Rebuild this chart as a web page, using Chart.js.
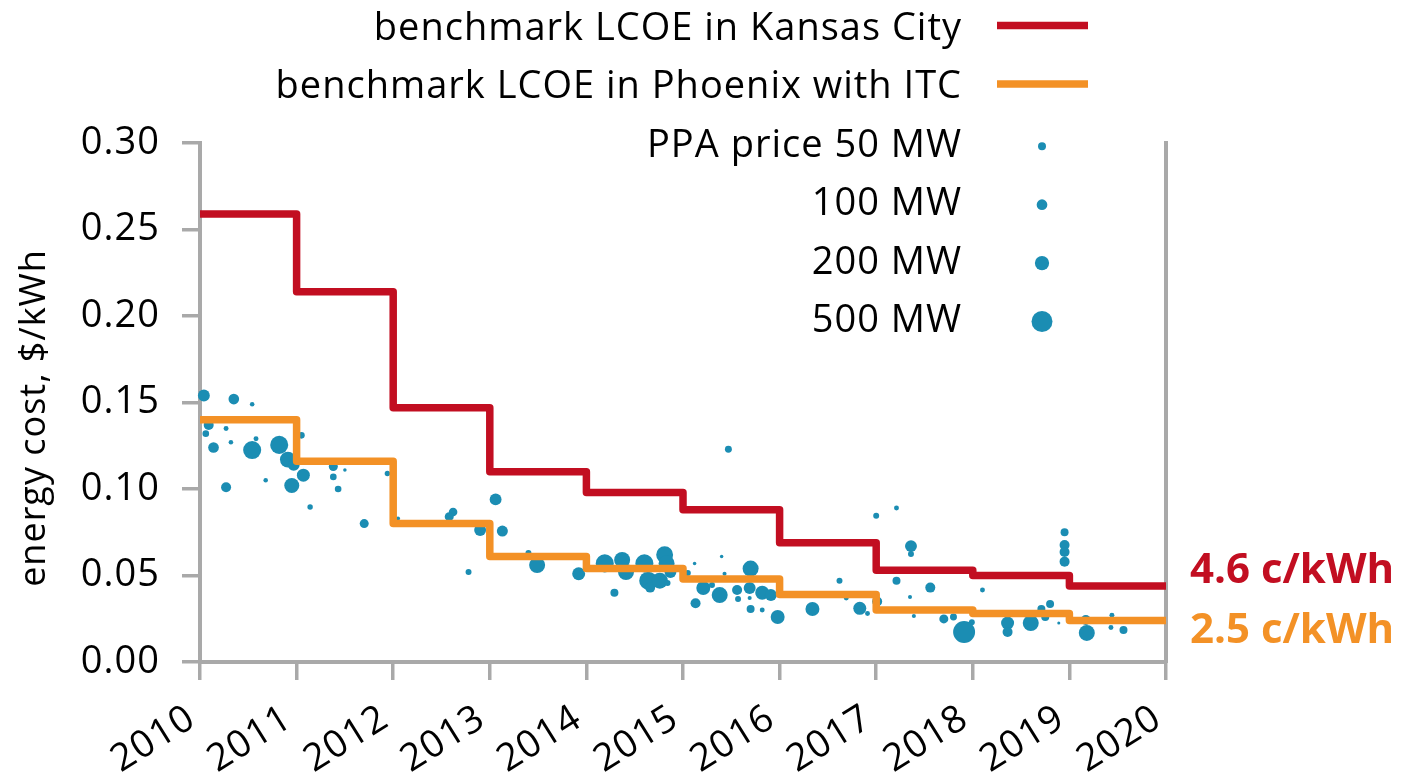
<!DOCTYPE html>
<html>
<head>
<meta charset="utf-8">
<script src="https://cdn.jsdelivr.net/npm/chart.js@4.4.1/dist/chart.umd.min.js"></script>
<style>
    html, body { margin: 0; padding: 0; background: #fff; }
    #wrap { width: 1402px; height: 776px; position: relative; }
</style>
</head>
<body>
<div id="wrap"><canvas id="chart"></canvas></div>
<script>
// benchmark LCOE steps, value held from each year to the next
const stepYears = [2010, 2011, 2012, 2013, 2014, 2015, 2016, 2017, 2018, 2019, 2020];
const kansasCity = [0.259, 0.214, 0.147, 0.110, 0.098, 0.088, 0.069, 0.053, 0.050, 0.044, 0.044];
const phoenixItc = [0.140, 0.116, 0.080, 0.061, 0.054, 0.048, 0.039, 0.030, 0.028, 0.024, 0.024];

// PPA prices: signing date, price in $/kWh, plant size in MW
const ppaYear = [
    2010.04, 2010.35, 2010.54, 2010.09, 2010.06, 2010.27, 2010.32, 2010.14, 2010.54, 2010.58,
    2010.82, 2010.91, 2010.97, 2011.05, 2011.07, 2010.95, 2010.27, 2010.68, 2011.38, 2011.50,
    2011.38, 2011.43, 2011.14, 2011.70, 2011.94, 2012.05, 2012.62, 2012.58, 2012.90, 2012.78,
    2013.06, 2013.13, 2013.40, 2013.49, 2013.92, 2014.29, 2014.19, 2014.37, 2014.41, 2014.60,
    2014.64, 2014.66, 2014.81, 2014.83, 2014.76, 2014.87, 2014.84, 2015.05, 2015.12, 2015.40,
    2015.43, 2015.70, 2015.21, 2015.38, 2015.13, 2015.56, 2015.57, 2015.69, 2015.82, 2015.91,
    2015.69, 2015.70, 2015.82, 2015.98, 2015.30, 2015.47, 2017.21, 2017.00, 2017.36, 2017.36,
    2016.62, 2017.21, 2017.56, 2018.10, 2017.35, 2016.69, 2017.01, 2016.34, 2016.83, 2016.91,
    2017.39, 2017.70, 2017.80, 2017.92, 2017.99, 2017.91, 2018.36, 2018.36, 2018.60, 2018.71,
    2018.80, 2018.75, 2018.89, 2018.95, 2018.95, 2018.95, 2018.95, 2019.17, 2019.18, 2019.44,
    2019.43, 2019.56,
];
const ppaPrice = [
    0.154, 0.152, 0.149, 0.137, 0.132, 0.135, 0.127, 0.124, 0.1225, 0.129,
    0.1255, 0.117, 0.114, 0.131, 0.108, 0.102, 0.101, 0.105, 0.113, 0.111,
    0.107, 0.100, 0.0896, 0.080, 0.109, 0.083, 0.0867, 0.084, 0.0763, 0.052,
    0.094, 0.0757, 0.063, 0.056, 0.051, 0.040, 0.057, 0.059, 0.052, 0.057,
    0.047, 0.043, 0.062, 0.057, 0.047, 0.052, 0.0457, 0.0514, 0.057, 0.061,
    0.051, 0.054, 0.0428, 0.0387, 0.034, 0.0416, 0.0364, 0.0428, 0.040, 0.0387,
    0.037, 0.0306, 0.030, 0.026, 0.0445, 0.123, 0.089, 0.0845, 0.067, 0.0624,
    0.047, 0.047, 0.043, 0.0416, 0.0376, 0.037, 0.035, 0.0306, 0.031, 0.028,
    0.0266, 0.0249, 0.026, 0.030, 0.023, 0.0173, 0.0225, 0.0173, 0.0225, 0.0306,
    0.0335, 0.026, 0.0225, 0.075, 0.0676, 0.0636, 0.058, 0.0243, 0.0168, 0.027,
    0.020, 0.0185,
];
const ppaMW = [
    130, 100, 13, 86, 32, 16, 13, 100, 350, 16,
    350, 260, 130, 32, 160, 225, 86, 13, 67, 7,
    32, 32, 20, 67, 20, 10, 60, 67, 130, 25,
    130, 108, 25, 263, 160, 50, 350, 263, 263, 350,
    350, 86, 300, 263, 263, 130, 25, 25, 7, 7,
    10, 263, 190, 263, 86, 86, 25, 130, 190, 130,
    10, 50, 16, 190, 25, 36, 16, 25, 130, 25,
    25, 50, 86, 16, 10, 16, 86, 190, 160, 16,
    10, 67, 36, 25, 25, 560, 160, 86, 263, 50,
    50, 50, 5, 50, 86, 86, 86, 86, 263, 16,
    16, 50,
];

const xTickLabels = ['2010', '2011', '2012', '2013', '2014', '2015', '2016', '2017', '2018', '2019', '2020'];
const legendSizes = [50, 100, 200, 500];
const endLabels = ['4.6 c/kWh', '2.5 c/kWh'];
const yTitle = 'energy cost, $/kWh';

const RED = '#c20e21';
const ORANGE = '#f39126';
const TEAL = '#1b8db3';
const AXIS = '#a9a9a9';
const FONT = "'Open Sans', sans-serif";

const radiusForMW = (mw) => 0.775 * Math.pow(mw, 0.419);

const stepPoints = (values) => stepYears.map((year, i) => ({x: year, y: values[i]}));

const ppaPoints = ppaYear.map((year, i) => ({
    x: year,
    y: ppaPrice[i],
    r: radiusForMW(ppaMW[i]),
}));

const lineOptions = {
    type: 'line',
    stepped: 'before',
    borderWidth: 7.5,
    borderJoinStyle: 'round',
    borderCapStyle: 'butt',
    pointRadius: 0,
    fill: false,
};

// the original typeface is a little wider than Open Sans
const spacingPlugin = {
    id: 'spacing',
    beforeDraw(chart) {
        chart.ctx.letterSpacing = '1px';
    },
};

// legend on the right-hand side, text right aligned before the marker
const legendPlugin = {
    id: 'sideLegend',
    afterDraw(chart) {
        const c = chart.ctx;
        const textRight = 962;
        const markX = 1042;
        const rows = [
            {label: 'benchmark LCOE in Kansas City', kind: 'line', color: RED},
            {label: 'benchmark LCOE in Phoenix with ITC', kind: 'line', color: ORANGE},
            {label: 'PPA price 50 MW', kind: 'dot', mw: legendSizes[0]},
            {label: '100 MW', kind: 'dot', mw: legendSizes[1]},
            {label: '200 MW', kind: 'dot', mw: legendSizes[2]},
            {label: '500 MW', kind: 'dot', mw: legendSizes[3]},
        ];

        c.save();
        c.letterSpacing = '1px';
        c.font = '38px ' + FONT;
        c.textAlign = 'right';
        c.textBaseline = 'alphabetic';
        rows.forEach((row, i) => {
            const base = 40 + i * 58.4;
            c.fillStyle = '#000';
            c.fillText(row.label, textRight, base);
            if (row.kind === 'line') {
                c.strokeStyle = row.color;
                c.lineWidth = 7.5;
                c.beginPath();
                c.moveTo(997, base - 14.5);
                c.lineTo(1088, base - 14.5);
                c.stroke();
            } else {
                c.fillStyle = TEAL;
                c.beginPath();
                c.arc(markX, base - 10.5, radiusForMW(row.mw), 0, Math.PI * 2);
                c.fill();
            }
        });

        // axis title, a bit below the middle of the axis as in the original
        c.save();
        c.font = '36px ' + FONT;
        c.textAlign = 'center';
        c.textBaseline = 'middle';
        c.fillStyle = '#000';
        c.translate(35, 418);
        c.rotate(-Math.PI / 2);
        c.fillText(yTitle, 0, 0);
        c.restore();

        // end values next to the last step
        const yScale = chart.scales.y;
        c.letterSpacing = '0px';
        c.font = 'bold 42px ' + FONT;
        c.textAlign = 'left';
        c.fillStyle = RED;
        c.fillText(endLabels[0], 1190, yScale.getPixelForValue(kansasCity[kansasCity.length - 1]) - 3);
        c.fillStyle = ORANGE;
        c.fillText(endLabels[1], 1190, yScale.getPixelForValue(phoenixItc[phoenixItc.length - 1]) + 23);
        c.restore();
    },
};

new Chart(document.getElementById('chart').getContext('2d'), {
    data: {
        datasets: [
            {
                ...lineOptions,
                label: 'benchmark LCOE in Kansas City',
                borderColor: RED,
                backgroundColor: RED,
                data: stepPoints(kansasCity),
            },
            {
                ...lineOptions,
                label: 'benchmark LCOE in Phoenix with ITC',
                borderColor: ORANGE,
                backgroundColor: ORANGE,
                data: stepPoints(phoenixItc),
            },
            {
                type: 'bubble',
                label: 'PPA price',
                backgroundColor: TEAL,
                borderWidth: 0,
                hoverBorderWidth: 0,
                clip: false,
                data: ppaPoints,
            },
        ],
    },
    options: {
        responsive: true,
        maintainAspectRatio: false,
        animation: false,
        events: [],
        layout: {
            padding: {top: 143, right: 236, bottom: 0, left: 0},
        },
        plugins: {
            legend: {display: false},
            tooltip: {enabled: false},
        },
        scales: {
            x: {
                type: 'linear',
                min: 2010,
                max: 2020,
                afterFit: (scale) => { scale.height = 114; },
                ticks: {
                    stepSize: 1,
                    autoSkip: false,
                    minRotation: 32,
                    maxRotation: 32,
                    color: '#000',
                    font: {family: FONT, size: 38},
                    padding: 16,
                    labelOffset: -8,
                    callback: (value) => xTickLabels[value - 2010],
                },
                grid: {
                    drawOnChartArea: false,
                    tickLength: 18,
                    color: AXIS,
                    lineWidth: 3.5,
                },
                border: {color: AXIS, width: 4},
            },
            y: {
                min: 0,
                max: 0.3,
                afterFit: (scale) => { scale.width = 200; },
                ticks: {
                    stepSize: 0.05,
                    color: '#000',
                    font: {family: FONT, size: 38},
                    padding: 22,
                    callback: (value) => value.toFixed(2),
                },
                grid: {
                    drawOnChartArea: false,
                    tickLength: 18,
                    color: AXIS,
                    lineWidth: 3.5,
                },
                border: {color: AXIS, width: 4},
            },
            y2: {
                position: 'right',
                min: 0,
                max: 0.3,
                afterFit: (scale) => { scale.width = 0; },
                ticks: {display: false},
                grid: {drawOnChartArea: false, drawTicks: false},
                border: {color: AXIS, width: 4},
            },
        },
    },
    plugins: [spacingPlugin, legendPlugin],
});
</script>
</body>
</html>
